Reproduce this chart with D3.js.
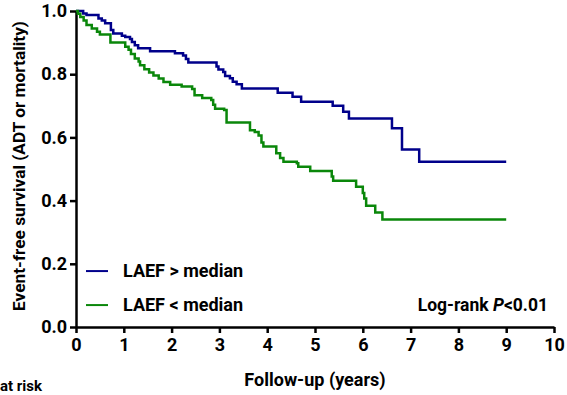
<!DOCTYPE html>
<html>
<head>
<meta charset="utf-8">
<script src="https://cdn.jsdelivr.net/npm/d3@7"></script>
<style>
  body { margin: 0; background: #fff; }
  svg text { font-family: Roboto, "Liberation Sans", sans-serif; font-weight: bold; fill: #000; }
</style>
</head>
<body>
<svg id="chart" width="567" height="395"></svg>
<script>
// Kaplan-Meier steps (time in years, survival)
const aboveTimes = [0, 0.15, 0.22, 0.47, 0.54, 0.61, 0.73, 0.78, 0.96, 1.03, 1.13, 1.17, 1.23, 1.30, 1.55,
  2.07, 2.24, 2.30, 2.35, 2.94, 2.98, 3.08, 3.12, 3.22, 3.28, 3.36, 3.47, 4.22, 4.53, 4.71,
  5.37, 5.59, 5.71, 6.61, 6.82, 7.18, 9.0];
const aboveSurv = [1.0, 0.992, 0.987, 0.976, 0.970, 0.961, 0.940, 0.929, 0.922, 0.918, 0.911, 0.902, 0.892, 0.882, 0.873,
  0.866, 0.859, 0.848, 0.837, 0.824, 0.815, 0.807, 0.794, 0.787, 0.776, 0.768, 0.755, 0.741, 0.729, 0.713,
  0.700, 0.681, 0.660, 0.629, 0.562, 0.523, 0.523];

const belowTimes = [0, 0.04, 0.09, 0.16, 0.22, 0.33, 0.44, 0.50, 0.72, 1.03, 1.10, 1.15, 1.23, 1.31, 1.34,
  1.43, 1.53, 1.62, 1.73, 1.83, 1.97, 2.21, 2.43, 2.48, 2.64, 2.83, 2.87, 2.91, 3.10, 3.15,
  3.64, 3.74, 3.82, 3.88, 3.92, 4.19, 4.27, 4.34, 4.62, 4.65, 4.90, 5.35, 5.38, 5.86, 6.00,
  6.03, 6.07, 6.26, 6.41, 9.0];
const belowSurv = [1.0, 0.991, 0.981, 0.970, 0.956, 0.945, 0.934, 0.926, 0.900, 0.887, 0.877, 0.864, 0.850, 0.840, 0.828,
  0.816, 0.805, 0.796, 0.786, 0.775, 0.767, 0.761, 0.753, 0.733, 0.725, 0.718, 0.703, 0.691, 0.687, 0.647,
  0.623, 0.617, 0.606, 0.584, 0.571, 0.550, 0.535, 0.523, 0.518, 0.507, 0.494, 0.476, 0.463, 0.444, 0.424,
  0.407, 0.384, 0.362, 0.340, 0.340];

const xTicks = [0, 1, 2, 3, 4, 5, 6, 7, 8, 9, 10];
const yTicks = [0, 0.2, 0.4, 0.6, 0.8, 1.0];
const groupNames = ["LAEF > median", "LAEF < median"];
const groupColors = ["#00008b", "#0a870a"];

const margin = {top: 11, left: 76};
const width = 478, height = 316;

const svg = d3.select("#chart");
const g = svg.append("g").attr("transform", `translate(${margin.left},${margin.top})`);

const x = d3.scaleLinear().domain([0, 10]).range([0, width]);
const y = d3.scaleLinear().domain([0, 1]).range([height, 0]);

// axes
const xAxis = g.append("g")
  .attr("transform", `translate(0,${height})`)
  .call(d3.axisBottom(x).tickValues(xTicks).tickFormat(d3.format("d")).tickSize(6).tickSizeOuter(0).tickPadding(5));
const yAxis = g.append("g")
  .call(d3.axisLeft(y).tickValues(yTicks).tickFormat(d3.format(".1f")).tickSize(6).tickSizeOuter(0).tickPadding(3));

[xAxis, yAxis].forEach(a => {
  a.select(".domain").attr("stroke", "#000").attr("stroke-width", 2.5);
  a.selectAll(".tick line").attr("stroke", "#000").attr("stroke-width", 2.5);
  a.selectAll(".tick text")
    .style("font-size", "18px")
    .style("font-family", "Roboto, sans-serif")
    .style("font-weight", "bold");
});

// curves
const line = d3.line()
  .curve(d3.curveStepAfter)
  .x(d => x(d[0]))
  .y(d => y(d[1]));

const series = [
  d3.zip(aboveTimes, aboveSurv),
  d3.zip(belowTimes, belowSurv)
];

g.selectAll("path.km")
  .data(series)
  .enter()
  .append("path")
  .attr("class", "km")
  .attr("fill", "none")
  .attr("stroke", (d, i) => groupColors[i])
  .attr("stroke-width", 2.5)
  .attr("d", line);

// legend
const legend = g.selectAll("g.legend")
  .data(groupNames)
  .enter()
  .append("g")
  .attr("class", "legend")
  .attr("transform", (d, i) => `translate(10,${y(0.177) + i * 34})`);
legend.append("line")
  .attr("x1", 0).attr("x2", 22)
  .attr("stroke", (d, i) => groupColors[i])
  .attr("stroke-width", 2);
legend.append("text")
  .attr("x", 37).attr("dy", "0.35em")
  .style("font-size", "18px")
  .text(d => d);

// log-rank annotation
const lr = g.append("text")
  .attr("x", width - 6)
  .attr("y", y(0.07))
  .attr("dy", "0.35em")
  .attr("text-anchor", "end")
  .style("font-size", "17.5px");
lr.append("tspan").text("Log-rank ");
lr.append("tspan").style("font-style", "italic").text("P");
lr.append("tspan").text("<0.01");

// axis titles
svg.append("text")
  .attr("x", margin.left + x(5))
  .attr("y", 386)
  .attr("text-anchor", "middle")
  .style("font-size", "18px")
  .text("Follow-up (years)");

svg.append("text")
  .attr("transform", `translate(25,${margin.top + height / 2 - 3}) rotate(-90)`)
  .attr("text-anchor", "middle")
  .style("font-size", "17.3px")
  .text("Event-free survival (ADT or mortality)");

// number-at-risk header (only its tail shows in the original)
svg.append("text")
  .attr("x", 0)
  .attr("y", 390.5)
  .style("font-size", "15px")
  .text("at risk");
</script>
</body>
</html>
